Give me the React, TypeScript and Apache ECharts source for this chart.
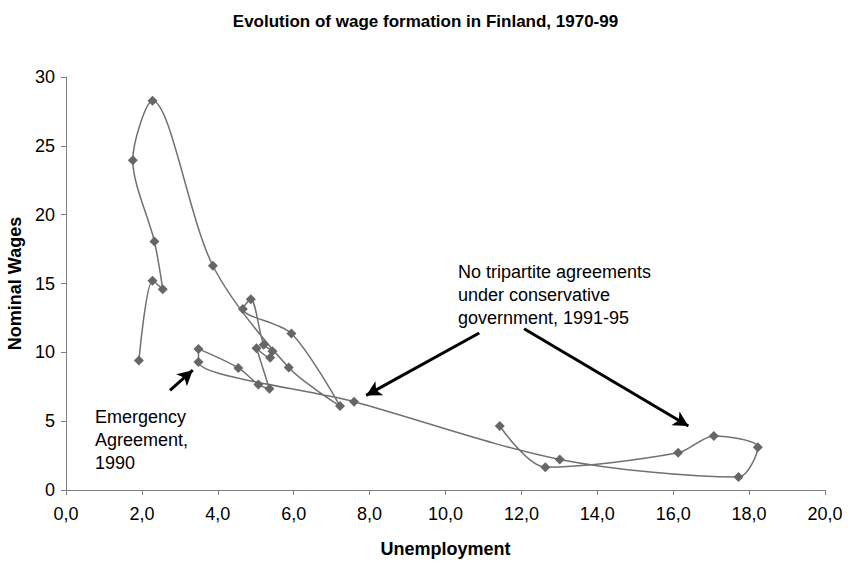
import React, { useEffect, useRef } from "react";
import * as echarts from "echarts";

const years = [1970, 1971, 1972, 1973, 1974, 1975, 1976, 1977, 1978, 1979, 1980, 1981, 1982, 1983, 1984, 1985, 1986, 1987, 1988, 1989, 1990, 1991, 1992, 1993, 1994, 1995, 1996, 1997, 1998];
const unemployment = [1.92, 2.28, 2.55, 2.33, 1.76, 2.28, 3.87, 5.87, 7.22, 5.94, 4.66, 4.87, 5.21, 5.44, 5.38, 5.02, 5.36, 5.07, 4.54, 3.49, 3.49, 7.59, 13.01, 17.72, 18.23, 17.07, 16.13, 12.63, 11.43];
const wages = [9.4, 15.2, 14.58, 18.05, 23.96, 28.27, 16.29, 8.89, 6.1, 11.37, 13.14, 13.86, 10.55, 10.07, 9.6, 10.3, 7.35, 7.66, 8.87, 10.25, 9.3, 6.41, 2.22, 0.94, 3.11, 3.93, 2.7, 1.66, 4.65];

// annotation arrows in data coordinates: [tailX, tailY, tipX, tipY]
const arrows = [
  [2.74, 7.23, 3.34, 8.7],
  [10.89, 11.4, 7.91, 6.87],
  [12.07, 11.71, 16.4, 4.65],
];

const noteTripartite = ["No tripartite agreements", "under conservative", "government, 1991-95"];
const noteEmergency = ["Emergency", "Agreement,", "1990"];

const FONT = "'Liberation Sans', Arial, sans-serif";

export default function App() {
  const ref = useRef<HTMLDivElement>(null);
  useEffect(() => {
    if (!ref.current) return;
    const chart = echarts.init(ref.current, undefined, { renderer: "svg" });
    const data = years.map((y, i) => [unemployment[i], wages[i], y]);
    chart.setOption({
      animation: false,
      backgroundColor: "#ffffff",
      textStyle: { fontFamily: FONT },
      title: {
        text: "Evolution of wage formation in Finland, 1970-99",
        left: "center",
        top: 8,
        textStyle: { fontFamily: FONT, fontSize: 17, fontWeight: "bold", color: "#000" },
      },
      grid: { left: 66, right: 26, top: 77, bottom: 75, containLabel: false, outerBoundsMode: "none" },
      xAxis: {
        type: "value",
        min: 0,
        max: 20,
        interval: 2,
        name: "Unemployment",
        nameLocation: "middle",
        nameGap: 50,
        nameTextStyle: { fontFamily: FONT, fontSize: 18, fontWeight: "bold", color: "#000" },
        axisLine: { show: true, onZero: false, lineStyle: { color: "#808080", width: 1 } },
        axisTick: { show: true, inside: false, length: 5, lineStyle: { color: "#808080" } },
        axisLabel: {
          fontFamily: FONT,
          fontSize: 18,
          color: "#000",
          margin: 15,
          formatter: (v: number) => v.toFixed(1).replace(".", ","),
        },
        splitLine: { show: false },
      },
      yAxis: {
        type: "value",
        min: 0,
        max: 30,
        interval: 5,
        name: "Nominal Wages",
        nameLocation: "middle",
        nameGap: 42,
        nameTextStyle: { fontFamily: FONT, fontSize: 18, fontWeight: "bold", color: "#000" },
        axisLine: { show: true, lineStyle: { color: "#808080", width: 1 } },
        axisTick: { show: true, inside: false, length: 5, lineStyle: { color: "#808080" } },
        axisLabel: { fontFamily: FONT, fontSize: 18, color: "#000", margin: 11 },
        splitLine: { show: false },
      },
      series: [
        {
          type: "line",
          data,
          smooth: 0.3,
          symbol: "diamond",
          symbolSize: 10,
          showSymbol: true,
          itemStyle: { color: "#666666" },
          lineStyle: { color: "#707070", width: 1.5 },
          markLine: {
            silent: true,
            symbol: ["none", "arrow"],
            symbolSize: [12, 15],
            label: { show: false },
            lineStyle: { color: "#000", width: 3, type: "solid" },
            data: arrows.map((a) => [
              { coord: [a[0], a[1]] },
              { coord: [a[2], a[3]] },
            ]),
          },
        },
      ],
      graphic: [
        {
          type: "text",
          left: 458,
          top: 260,
          style: {
            text: noteTripartite.join("\n"),
            fontFamily: FONT,
            fontSize: 18,
            lineHeight: 23,
            fill: "#000",
          },
        },
        {
          type: "text",
          left: 95,
          top: 405,
          style: {
            text: noteEmergency.join("\n"),
            fontFamily: FONT,
            fontSize: 18,
            lineHeight: 23,
            fill: "#000",
          },
        },
      ],
    });
    return () => chart.dispose();
  }, []);
  return (
    <div
      ref={ref}
      style={{ position: "fixed", left: 0, top: 0, width: 851, height: 565, background: "#fff" }}
    />
  );
}
